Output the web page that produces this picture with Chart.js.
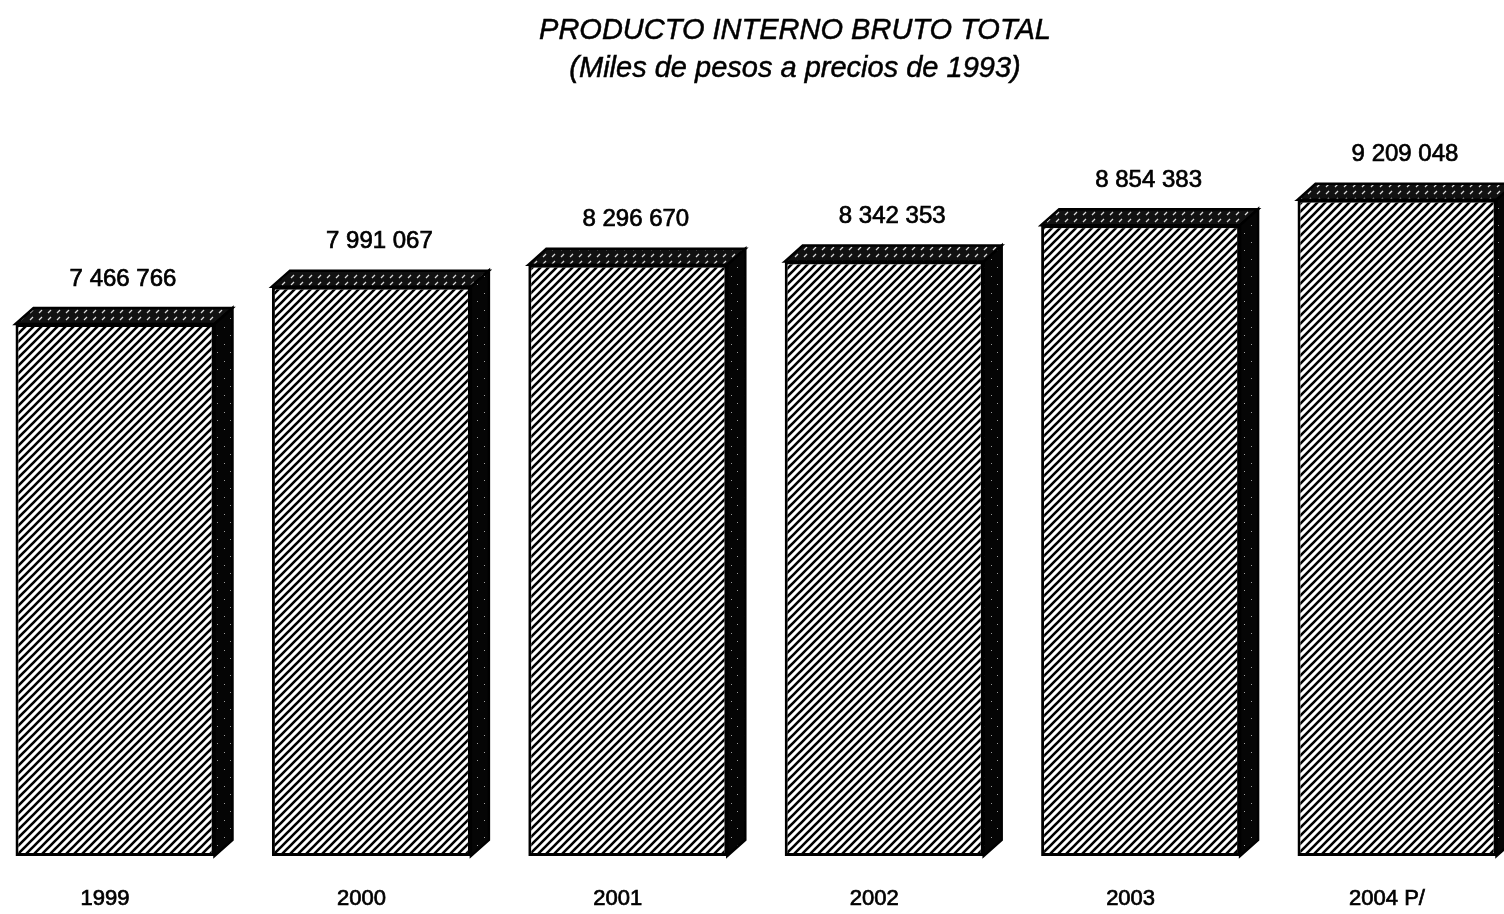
<!DOCTYPE html>
<html>
<head>
<meta charset="utf-8">
<script src="https://cdn.jsdelivr.net/npm/chart.js@4"></script>
<style>
html, body { margin: 0; padding: 0; background: #fff; }
canvas { display: block; }
</style>
</head>
<body>
<canvas id="pib" width="1504" height="914"></canvas>
<script>
var years = ['1999', '2000', '2001', '2002', '2003', '2004 P/'];
var pibTotal = [7466766, 7991067, 8296670, 8342353, 8854383, 9209048];
var titleText = 'PRODUCTO INTERNO BRUTO TOTAL';
var subtitleText = '(Miles de pesos a precios de 1993)';

var FONT = "'Liberation Sans', Arial, Helvetica, sans-serif";
var DEPTH_X = 18;
var DEPTH_Y = 16;

var canvas = document.getElementById('pib');
var mainCtx = canvas.getContext('2d');

function makePattern(w, h, paint) {
    var tile = document.createElement('canvas');
    tile.width = w;
    tile.height = h;
    paint(tile.getContext('2d'), w, h);
    return mainCtx.createPattern(tile, 'repeat');
}

// front face: black "/" stripes on white
var hatch = makePattern(8, 8, function (g, s) {
    g.fillStyle = '#fff';
    g.fillRect(0, 0, s, s);
    g.strokeStyle = '#000';
    g.lineWidth = 2.6;
    g.beginPath();
    g.moveTo(-2, 2); g.lineTo(2, -2);
    g.moveTo(-1, s + 1); g.lineTo(s + 1, -1);
    g.moveTo(s - 2, s + 2); g.lineTo(s + 2, s - 2);
    g.stroke();
});

// top face: dark with small light dashes
var topPattern = makePattern(9, 7, function (g, w, h) {
    g.fillStyle = '#111';
    g.fillRect(0, 0, w, h);
    g.strokeStyle = '#ddd';
    g.lineWidth = 1.3;
    g.beginPath();
    g.moveTo(3, 5); g.lineTo(6, 2);
    g.stroke();
});

// side face: black with a few specks
var sidePattern = makePattern(13, 17, function (g, w, h) {
    g.fillStyle = '#050505';
    g.fillRect(0, 0, w, h);
    g.fillStyle = '#999';
    g.fillRect(3, 4, 1, 1);
    g.fillRect(9, 12, 1, 1);
});

function formatMiles(n) {
    return n.toString().replace(/\B(?=(\d{3})+(?!\d))/g, ' ');
}

// printed text is a bit heavy, so fill and give it a thin outline
function heavyText(ctx, text, x, y) {
    ctx.fillText(text, x, y);
    ctx.strokeText(text, x, y);
}

var bar3d = {
    id: 'bar3d',
    afterDatasetsDraw: function (chart) {
        var ctx = chart.ctx;
        chart.getDatasetMeta(0).data.forEach(function (bar) {
            var half = bar.width / 2;
            var l = bar.x - half, r = bar.x + half, t = bar.y, b = bar.base;
            ctx.save();
            ctx.strokeStyle = '#000';
            ctx.lineWidth = 2.5;
            ctx.lineJoin = 'miter';

            ctx.beginPath();
            ctx.moveTo(l, t);
            ctx.lineTo(l + DEPTH_X, t - DEPTH_Y);
            ctx.lineTo(r + DEPTH_X, t - DEPTH_Y);
            ctx.lineTo(r, t);
            ctx.closePath();
            ctx.fillStyle = topPattern;
            ctx.fill();
            ctx.stroke();

            ctx.beginPath();
            ctx.moveTo(r, t);
            ctx.lineTo(r + DEPTH_X, t - DEPTH_Y);
            ctx.lineTo(r + DEPTH_X, b - DEPTH_Y);
            ctx.lineTo(r, b);
            ctx.closePath();
            ctx.fillStyle = sidePattern;
            ctx.fill();
            ctx.stroke();
            ctx.restore();
        });
    }
};

// value over each bar, year under it
var barLabels = {
    id: 'barLabels',
    afterDatasetsDraw: function (chart) {
        var ctx = chart.ctx;
        var xScale = chart.scales.x;
        ctx.save();
        ctx.fillStyle = '#000';
        ctx.strokeStyle = '#000';
        ctx.lineWidth = 0.7;
        ctx.textAlign = 'center';
        ctx.textBaseline = 'middle';
        chart.getDatasetMeta(0).data.forEach(function (bar, i) {
            ctx.font = '24px ' + FONT;
            heavyText(ctx, formatMiles(pibTotal[i]), bar.x + 8, bar.y - 45);
            ctx.font = '22px ' + FONT;
            heavyText(ctx, xScale.getLabelForValue(i), xScale.getPixelForValue(i) - 10, bar.base + 43);
        });
        ctx.restore();
    }
};

var titles = {
    id: 'titles',
    afterDraw: function (chart) {
        var ctx = chart.ctx;
        ctx.save();
        ctx.fillStyle = '#000';
        ctx.strokeStyle = '#000';
        ctx.lineWidth = 0.5;
        ctx.textAlign = 'center';
        ctx.textBaseline = 'alphabetic';
        ctx.font = 'italic 29px ' + FONT;
        heavyText(ctx, titleText, 795, 39);
        heavyText(ctx, subtitleText, 795, 77);
        ctx.restore();
    }
};

new Chart(canvas, {
    type: 'bar',
    data: {
        labels: years,
        datasets: [{
            data: pibTotal,
            backgroundColor: hatch,
            borderColor: '#000',
            borderWidth: 3,
            borderSkipped: false,
            clip: false,
            barPercentage: 1,
            categoryPercentage: 0.776
        }]
    },
    options: {
        responsive: false,
        animation: false,
        events: [],
        layout: {
            padding: { top: 143.5, bottom: 58, left: 115, right: 107 }
        },
        plugins: {
            legend: { display: false },
            tooltip: { enabled: false },
            title: { display: false }
        },
        scales: {
            x: {
                display: false,
                offset: false
            },
            y: {
                display: false,
                min: 0,
                max: 10000000
            }
        }
    },
    plugins: [bar3d, barLabels, titles]
});
</script>
</body>
</html>
